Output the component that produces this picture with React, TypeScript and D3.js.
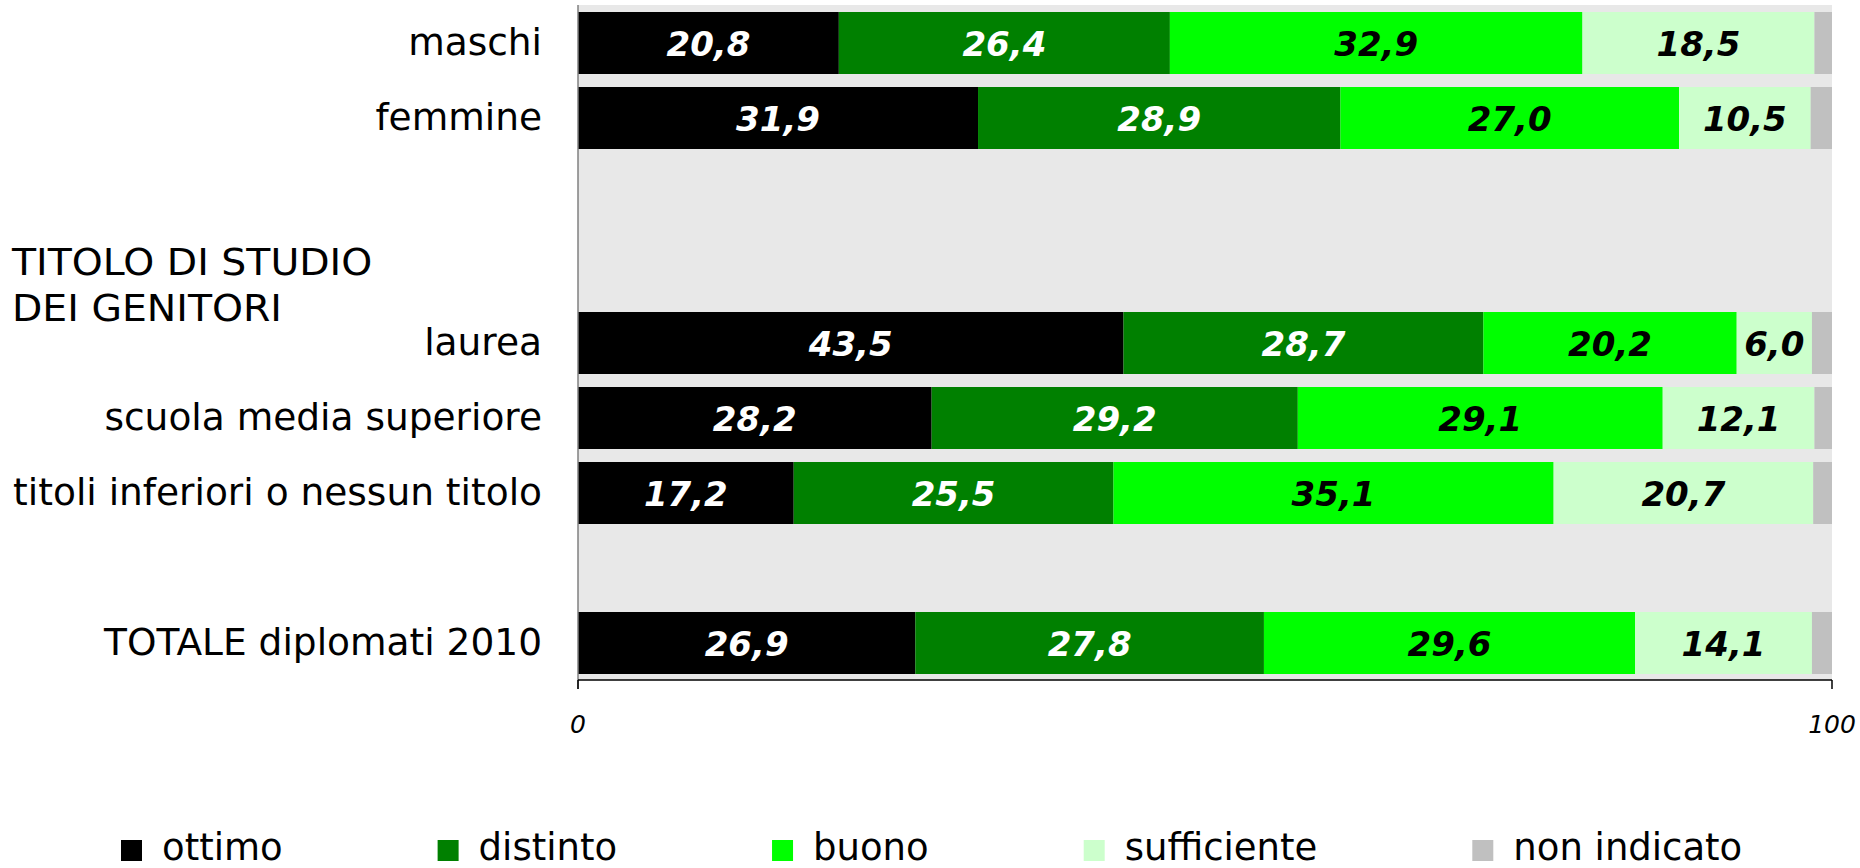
import * as d3 from 'd3';
import { type FC } from 'react';

// categories top to bottom; empty slots are spacer rows
const categories = [
  'maschi',
  'femmine',
  '',
  ' ',
  'laurea',
  'scuola media superiore',
  'titoli inferiori o nessun titolo',
  '  ',
  'TOTALE diplomati 2010',
];
const rows = [
  'maschi',
  'femmine',
  'laurea',
  'scuola media superiore',
  'titoli inferiori o nessun titolo',
  'TOTALE diplomati 2010',
];
const seriesNames = ['ottimo', 'distinto', 'buono', 'sufficiente', 'non indicato'];
const ottimo = [20.8, 31.9, 43.5, 28.2, 17.2, 26.9];
const distinto = [26.4, 28.9, 28.7, 29.2, 25.5, 27.8];
const buono = [32.9, 27.0, 20.2, 29.1, 35.1, 29.6];
const sufficiente = [18.5, 10.5, 6.0, 12.1, 20.7, 14.1];
const nonIndicato = [1.4, 1.7, 1.6, 1.4, 1.5, 1.6];
const groupHeader = ['TITOLO DI STUDIO', 'DEI GENITORI'];
const xTicks = [0, 100];

const colors = ['#000000', '#008000', '#00FF00', '#CCFFCC', '#C0C0C0'];
const labelColors = ['#FFFFFF', '#FFFFFF', '#000000', '#000000', null];

const W = 1860;
const H = 868;
const FONT = '"DejaVu Sans", Verdana, sans-serif';

const measure = (() => {
  const ctx = document.createElement('canvas').getContext('2d');
  return (text: string, size: number) => {
    if (!ctx) return text.length * size * 0.55;
    ctx.font = `${size}px "DejaVu Sans"`;
    return ctx.measureText(text).width;
  };
})();

const App: FC = () => {
  const plot = { left: 578, right: 1832, top: 5, bottom: 680 };

  const x = d3.scaleLinear().domain([0, 100]).range([plot.left, plot.right]);
  const y = d3
    .scaleBand<string>()
    .domain(categories)
    .range([12, 674])
    .paddingInner(13 / 75)
    .paddingOuter(0);

  const table = rows.map((name, i) => ({
    name,
    ottimo: ottimo[i],
    distinto: distinto[i],
    buono: buono[i],
    sufficiente: sufficiente[i],
    'non indicato': nonIndicato[i],
  }));
  const stack = d3.stack<(typeof table)[number]>().keys(seriesNames)(table);

  const fmt = (v: number) => v.toFixed(1).replace('.', ',');

  // legend layout from text widths
  const legendSize = 37;
  let lx = 121;
  const legendItems = seriesNames.map((name, i) => {
    const item = { name, x: lx, color: colors[i] };
    lx += 41 + measure(name, legendSize) + 155;
    return item;
  });

  const laureaTop = y('laurea') || 0;

  return (
    <svg
      width={W}
      height={H}
      style={{ position: 'absolute', left: 0, top: 0, background: '#fff' }}
      fontFamily={FONT}
    >
      <rect
        x={plot.left}
        y={plot.top}
        width={plot.right - plot.left}
        height={plot.bottom - plot.top}
        fill="#E8E8E8"
      />

      {stack.map((layer, si) => (
        <g key={layer.key}>
          {layer.map((d) => {
            const yy = y(d.data.name) || 0;
            return (
              <rect
                key={d.data.name}
                x={x(d[0])}
                y={yy}
                width={x(d[1]) - x(d[0])}
                height={y.bandwidth()}
                fill={colors[si]}
              />
            );
          })}
          {labelColors[si] &&
            layer.map((d) => (
              <text
                key={'l' + d.data.name}
                x={x((d[0] + d[1]) / 2)}
                y={(y(d.data.name) || 0) + y.bandwidth() / 2}
                dy="0.37em"
                textAnchor="middle"
                fontSize={34}
                fontWeight="bold"
                fontStyle="italic"
                fill={labelColors[si] as string}
              >
                {fmt(d[1] - d[0])}
              </text>
            ))}
        </g>
      ))}

      {/* axes */}
      <line x1={plot.left} x2={plot.left} y1={plot.top} y2={plot.bottom + 9} stroke="#808080" strokeWidth={1.5} />
      <line x1={plot.left} x2={plot.right} y1={plot.bottom} y2={plot.bottom} stroke="#000" strokeWidth={1.5} />
      {xTicks.map((t) => (
        <g key={t}>
          <line x1={x(t)} x2={x(t)} y1={plot.bottom} y2={plot.bottom + 9} stroke="#000" strokeWidth={1.5} />
          <text x={x(t)} y={733} textAnchor="middle" fontSize={25} fontStyle="italic" fill="#000">
            {t}
          </text>
        </g>
      ))}

      {/* category labels */}
      {rows.map((r) => (
        <text
          key={r}
          x={542}
          y={(y(r) || 0) + y.bandwidth() / 2}
          dy="0.33em"
          textAnchor="end"
          fontSize={37.5}
          fill="#000"
        >
          {r}
        </text>
      ))}
      <g transform="translate(12,0) scale(1.065,1)">
        {groupHeader.map((t, i) => (
          <text key={t} x={0} y={laureaTop - 37 + i * 46} fontSize={37} fill="#000">
            {t}
          </text>
        ))}
      </g>

      {/* legend */}
      {legendItems.map((it) => (
        <g key={it.name}>
          <rect x={it.x} y={840} width={21} height={21} fill={it.color} />
          <text x={it.x + 41} y={860} fontSize={legendSize} fill="#000">
            {it.name}
          </text>
        </g>
      ))}
    </svg>
  );
};

export default App;
